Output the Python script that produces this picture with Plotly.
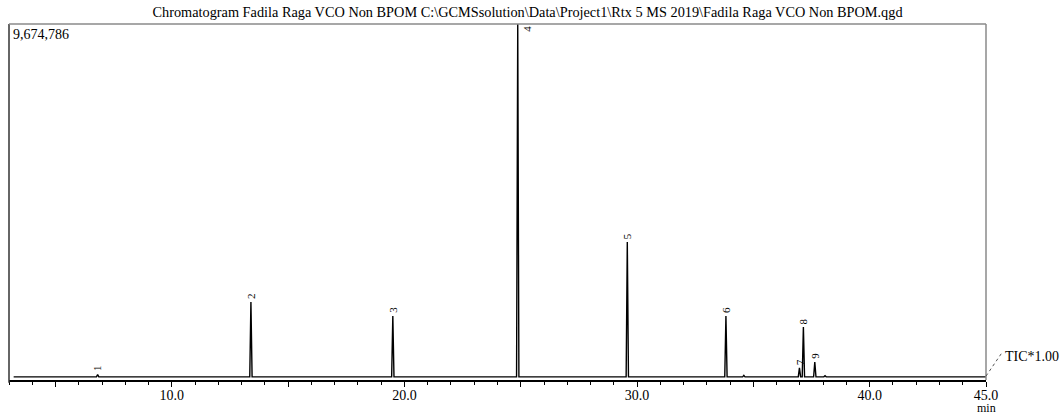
import plotly.graph_objects as go

# ---- data ----
peak_labels = ["1", "2", "3", "4", "5", "6", "7", "8", "9"]
peak_times = [6.81, 13.40, 19.50, 24.87, 29.58, 33.82, 36.98, 37.15, 37.64]
peak_heights = [150000, 2120000, 1740000, 9674786, 3750000, 1740000, 330000, 1440000, 490000]
small_times = [34.59, 38.08]
small_heights = [125000, 115000]
baseline_level = 85000
run_start = 3.2
run_end = 45.0
full_scale = 9674786
x_tick_vals = [5, 10, 15, 20, 25, 30, 35, 40, 45]
x_tick_text = ["", "10.0", "", "20.0", "", "30.0", "", "40.0", "45.0"]

# ---- build chromatogram polyline from peak list ----
half_w = 0.05
events = sorted(list(zip(peak_times, peak_heights)) + list(zip(small_times, small_heights)))
xs = [run_start]
ys = [baseline_level]
for t, h in events:
    xs += [t - half_w, t, t + half_w]
    ys += [baseline_level, h, baseline_level]
xs.append(run_end)
ys.append(baseline_level)

SERIF = "Liberation Serif, Times New Roman, serif"

fig = go.Figure()
fig.add_trace(go.Scatter(x=xs, y=ys, mode="lines",
                         line=dict(color="black", width=1.4),
                         hoverinfo="skip", showlegend=False))

annotations = []
for lab, t, h in zip(peak_labels, peak_times, peak_heights):
    if h >= full_scale:
        annotations.append(dict(x=t, y=full_scale, xref="x", yref="y", text=lab,
                                textangle=-90, showarrow=False, xanchor="left",
                                yanchor="top", xshift=1, yshift=0,
                                font=dict(family=SERIF, size=11, color="black")))
    else:
        annotations.append(dict(x=t, y=h, xref="x", yref="y", text=lab,
                                textangle=-90, showarrow=False, xanchor="center",
                                yanchor="bottom", yshift=1,
                                font=dict(family=SERIF, size=11, color="black")))

annotations.append(dict(x=0, y=1, xref="paper", yref="paper", text="9,674,786",
                        showarrow=False, xanchor="left", yanchor="top", xshift=2, yshift=-1,
                        font=dict(family=SERIF, size=14, color="black")))
annotations.append(dict(x=1.0174, y=0.066, xref="paper", yref="paper", text="TIC*1.00",
                        showarrow=False, xanchor="left", yanchor="middle",
                        font=dict(family=SERIF, size=14, color="black")))
annotations.append(dict(x=1.0, y=-0.079, xref="paper", yref="paper", text="min",
                        showarrow=False, xanchor="center", yanchor="middle",
                        font=dict(family=SERIF, size=12, color="black")))

shapes = [
    dict(type="line", xref="paper", yref="paper", x0=0, x1=0, y0=-0.008, y1=1,
         line=dict(color="#333333", width=1.5)),
    dict(type="line", xref="paper", yref="paper", x0=0, x1=1, y0=1, y1=1,
         line=dict(color="#8a8a8a", width=1.5)),
    dict(type="line", xref="paper", yref="paper", x0=1, x1=1, y0=0, y1=1,
         line=dict(color="#8a8a8a", width=1.5)),
    dict(type="line", xref="paper", yref="paper", x0=1.0, x1=1.0161, y0=0.011, y1=0.0758,
         line=dict(color="#555555", width=1, dash="dot")),
]

fig.update_layout(
    width=1061, height=418,
    margin=dict(l=9, r=75, t=24, b=38),
    paper_bgcolor="white", plot_bgcolor="white",
    title=dict(text="Chromatogram Fadila Raga VCO Non BPOM C:\\GCMSsolution\\Data\\Project1\\Rtx 5 MS 2019\\Fadila Raga VCO Non BPOM.qgd",
               x=0.4972, xanchor="center", xref="container",
               y=0.971, yanchor="middle", yref="container",
               font=dict(family=SERIF, size=14.3, color="black")),
    xaxis=dict(range=[3.0, 45.0], showgrid=False, zeroline=False,
               tickmode="array", tickvals=x_tick_vals, ticktext=x_tick_text,
               ticks="outside", ticklen=5, tickwidth=1, tickcolor="black",
               ticklabelstandoff=-4,
               minor=dict(dtick=1, tick0=0, ticks="outside", ticklen=3, tickwidth=1, tickcolor="black", showgrid=False),
               showline=True, linecolor="black", linewidth=2,
               tickfont=dict(family=SERIF, size=14, color="black")),
    yaxis=dict(range=[0, full_scale], visible=False, showgrid=False, zeroline=False),
    annotations=annotations,
    shapes=shapes,
)

fig.write_html("out.html")
